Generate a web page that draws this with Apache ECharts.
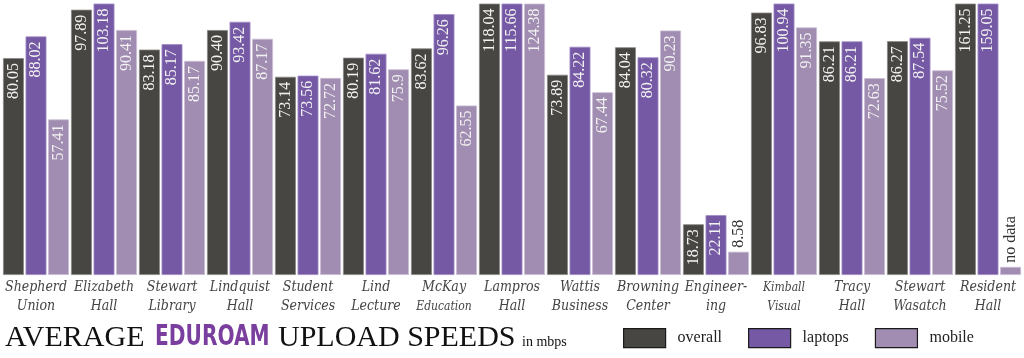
<!DOCTYPE html>
<html>
<head>
<meta charset="utf-8">
<script src="https://cdn.jsdelivr.net/npm/echarts@6/dist/echarts.min.js"></script>
<style>
html,body{margin:0;padding:0;background:#fff;}
#chart{width:1024px;height:358px;}
</style>
</head>
<body>
<div id="chart"></div>
<script>
const categories = [
  'Shepherd\nUnion', 'Elizabeth\nHall', 'Stewart\nLibrary', 'Lindquist\nHall',
  'Student\nServices', 'Lind\nLecture', 'McKay\nEducation', 'Lampros\nHall',
  'Wattis\nBusiness', 'Browning\nCenter', 'Engineer-\ning', 'Kimball\nVisual',
  'Tracy\nHall', 'Stewart\nWasatch', 'Resident\nHall'
];
const smallWords = ['Education', 'Kimball', 'Visual'];

// bar heights as drawn
const overall = [80.05, 97.89, 83.18, 90.40, 73.14, 80.19, 83.62, 118.04, 73.89, 84.04, 18.73, 96.83, 86.21, 86.27, 161.25];
const laptops = [88.02, 103.18, 85.17, 93.42, 73.56, 81.62, 96.26, 115.66, 84.22, 80.32, 22.11, 100.94, 86.21, 87.54, 159.05];
const mobile  = [57.41, 90.41, 79.0, 87.17, 72.72, 75.9, 62.55, 124.38, 67.44, 90.23, 8.58, 91.35, 72.63, 75.52, null];

// printed value labels
const overallLabels = ['80.05', '97.89', '83.18', '90.40', '73.14', '80.19', '83.62', '118.04', '73.89', '84.04', '18.73', '96.83', '86.21', '86.27', '161.25'];
const laptopsLabels = ['88.02', '103.18', '85.17', '93.42', '73.56', '81.62', '96.26', '115.66', '84.22', '80.32', '22.11', '100.94', '86.21', '87.54', '159.05'];
const mobileLabels  = ['57.41', '90.41', '85.17', '87.17', '72.72', '75.9', '62.55', '124.38', '67.44', '90.23', '8.58', '91.35', '72.63', '75.52', 'no data'];

const titleParts = ['AVERAGE', 'EDUROAM', 'UPLOAD SPEEDS', 'in mbps'];

const noDataStub = 3;
const seriesNames = ['overall', 'laptops', 'mobile'];
const colors = ['#484642', '#7559a5', '#a18db1'];
const borders = ['#8a8886', '#a08ac6', '#c9bcd4'];

function buildData(values, labels) {
  return values.map((v, i) => {
    const val = (v === null) ? noDataStub : v;
    const outside = val < 15;
    return {
      value: val,
      label: outside ? {
        position: 'top', distance: 4, align: 'left', verticalAlign: 'middle',
        color: '#333', formatter: labels[i]
      } : {
        formatter: labels[i]
      }
    };
  });
}

const series = [overall, laptops, mobile].map((vals, k) => ({
  name: seriesNames[k],
  type: 'bar',
  barGap: '8%',
  barCategoryGap: '3%',
  clip: true,
  itemStyle: { color: colors[k], borderColor: borders[k], borderWidth: 0.8 },
  label: {
    show: true,
    position: 'insideTop',
    distance: 5,
    rotate: 90,
    align: 'right',
    verticalAlign: 'middle',
    fontFamily: 'Liberation Serif',
    fontSize: 16,
    color: '#f2f2f2'
  },
  data: buildData(vals, [overallLabels, laptopsLabels, mobileLabels][k])
}));

const chart = echarts.init(document.getElementById('chart'), null, { renderer: 'canvas' });
chart.setOption({
  animation: false,
  backgroundColor: '#ffffff',
  grid: { left: 2, right: 2, top: 4, bottom: 83, containLabel: false },
  graphic: [
    { type: 'text', x: 5, y: 338, style: { text: titleParts[0], fontFamily: 'Liberation Serif', fontSize: 30, fill: '#111', align: 'left', verticalAlign: 'middle' } },
    { type: 'text', x: 155, y: 338, scaleX: 0.72, style: { text: titleParts[1], fontFamily: 'DejaVu Sans', fontWeight: 'bold', fontSize: 28, fill: '#7a3f9e', align: 'left', verticalAlign: 'middle' } },
    { type: 'text', x: 278, y: 338, style: { text: titleParts[2], fontFamily: 'Liberation Serif', fontSize: 30, fill: '#111', align: 'left', verticalAlign: 'middle' } },
    { type: 'text', x: 522, y: 342, style: { text: titleParts[3], fontFamily: 'Liberation Serif', fontSize: 14, fill: '#111', align: 'left', verticalAlign: 'middle' } }
  ],
  legend: {
    left: 618, top: 323,
    itemWidth: 42, itemHeight: 19, itemGap: 26,
    icon: 'rect',
    itemStyle: { borderColor: '#1a1a1a', borderWidth: 1.2 },
    textStyle: { fontFamily: 'Liberation Serif', fontSize: 16, color: '#222', padding: [0, 0, 0, 7] },
    data: seriesNames
  },
  xAxis: {
    type: 'category',
    data: categories,
    axisLine: { show: false },
    axisTick: { show: false },
    axisLabel: {
      interval: 0,
      margin: 3,
      formatter: function (v) {
        return v.split('\n').map(w => smallWords.indexOf(w) >= 0 ? '{s|' + w + '}' : '{n|' + w + '}').join('\n');
      },
      rich: {
        n: { fontFamily: 'DejaVu Serif Condensed, DejaVu Serif', fontStyle: 'italic', fontSize: 14, color: '#444', lineHeight: 19 },
        s: { fontFamily: 'DejaVu Serif Condensed, DejaVu Serif', fontStyle: 'italic', fontSize: 12, color: '#444', lineHeight: 19 }
      }
    }
  },
  yAxis: {
    type: 'value',
    min: 0, max: 100,
    show: false,
    splitLine: { show: false }
  },
  series: series
});
</script>
</body>
</html>
